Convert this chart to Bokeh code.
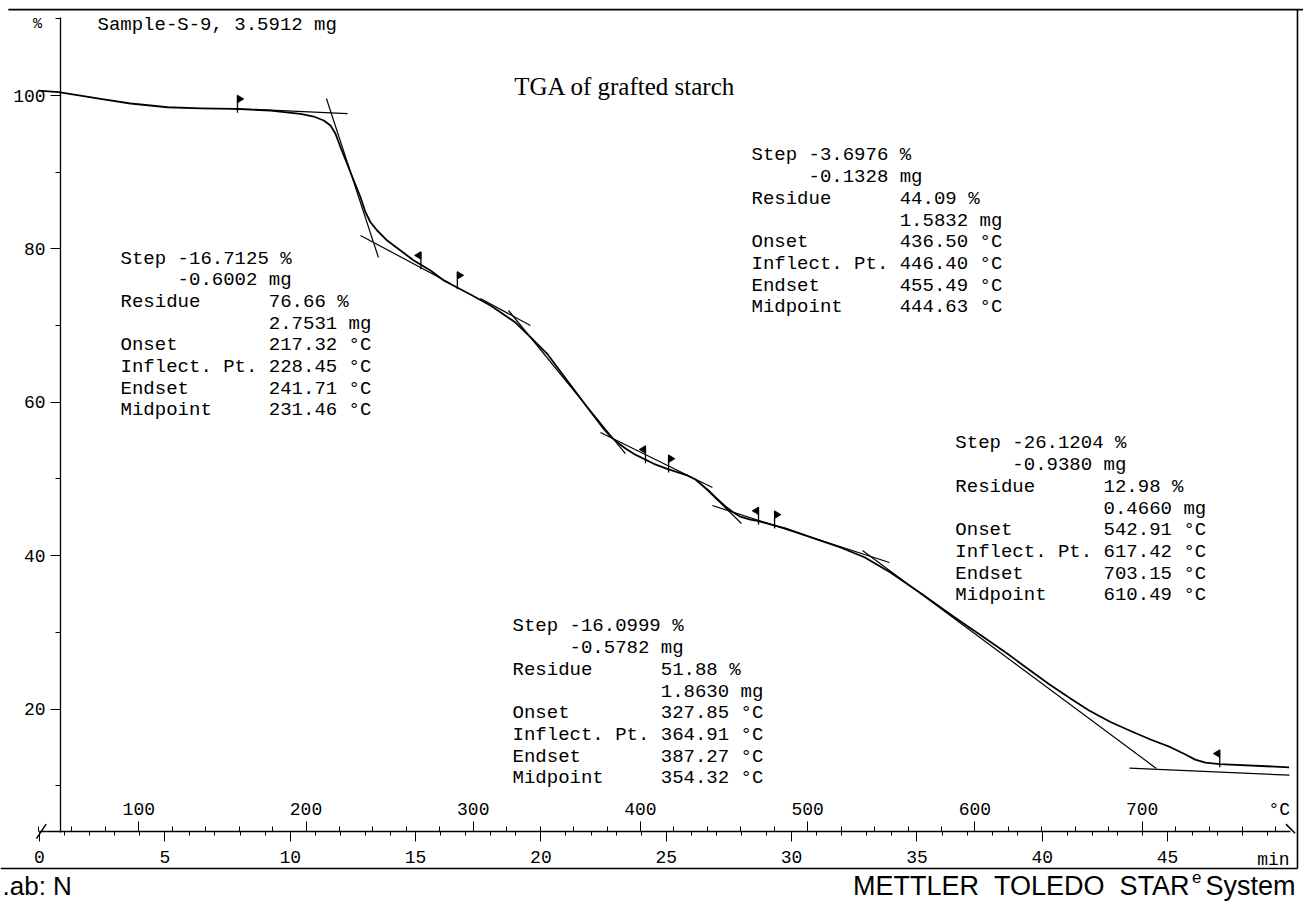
import numpy as np
from bokeh.plotting import figure
from bokeh.models import Range1d, LinearAxis, SingleIntervalTicker, ColumnDataSource
from bokeh.core.properties import value
from bokeh.embed import file_html
from bokeh.resources import INLINE

# ---- measured TGA curve: furnace temperature (degC) vs remaining mass (%) ----
temp_c = [40.0, 51.98, 65.14, 77.10, 95.04, 117.16, 136.90, 156.63, 178.76, 196.70,
          204.65, 210.63, 214.64, 217.63, 220.62, 224.62, 228.57, 232.57, 235.56, 238.55,
          242.56, 248.54, 256.50, 264.45, 274.44, 282.39, 298.35, 310.31, 316.29, 325.26,
          334.23, 344.22, 356.18, 368.14, 378.06, 382.07, 386.08, 391.04, 396.01, 407.97,
          415.98, 427.94, 432.90, 435.89, 440.68, 445.88, 450.84, 455.63, 459.57, 465.80,
          470.58, 486.72, 504.66, 519.61, 533.96, 549.51, 568.05, 587.78, 603.33, 619.48,
          644.00, 657.15, 668.28, 681.08, 692.44, 705.00, 716.96, 725.93, 731.73, 737.89,
          746.26, 787.88]
mass_pct = [100.65, 100.43, 100.00, 99.57, 98.96, 98.47, 98.33, 98.27, 98.04, 97.61,
            97.26, 96.74, 96.09, 95.01, 93.26, 91.09, 88.92, 86.74, 84.78, 83.48,
            82.40, 81.09, 79.79, 78.49, 77.18, 75.88, 74.05, 72.62, 71.74, 70.40,
            68.49, 66.32, 62.84, 59.36, 56.54, 55.54, 54.80, 53.97, 53.28, 51.98,
            51.33, 50.46, 49.94, 49.37, 48.50, 47.42, 46.41, 45.63, 45.10, 44.71,
            44.51, 43.55, 42.19, 41.07, 39.80, 37.81, 35.03, 31.98, 29.66, 27.21,
            23.29, 21.38, 19.82, 18.32, 17.21, 16.03, 15.03, 14.08, 13.41, 13.02,
            12.83, 12.41]

# ---- step evaluation results ----
step_pct = [-16.7125, -16.0999, -3.6976, -26.1204]
step_mg = [-0.6002, -0.5782, -0.1328, -0.9380]
residue_pct = [76.66, 51.88, 44.09, 12.98]
residue_mg = [2.7531, 1.8630, 1.5832, 0.4660]
onset_c = [217.32, 327.85, 436.50, 542.91]
inflect_c = [228.45, 364.91, 446.40, 617.42]
endset_c = [241.71, 387.27, 455.49, 703.15]
midpoint_c = [231.46, 354.32, 444.63, 610.49]

# ---- evaluation limits (flags): temperature, mass, direction (+1 right / -1 left) ----
flag_t = [159.0, 268.7, 290.5, 403.0, 416.8, 470.6, 480.2, 746.4]
flag_m = [98.2, 77.8, 75.2, 52.5, 51.3, 44.5, 44.0, 12.85]
flag_dir = [1, -1, 1, -1, 1, -1, 1, -1]

# ---- tangent / baseline construction lines ----
tan_t0 = [156.6, 212.2, 232.6, 304.3, 321.1, 376.1, 434.7, 443.0, 532.8, 692.4]
tan_m0 = [98.31, 99.61, 81.75, 73.53, 71.97, 56.06, 49.67, 46.54, 40.68, 12.29]
tan_t1 = [224.8, 243.3, 286.4, 334.2, 391.0, 443.0, 460.4, 548.9, 708.5, 788.1]
tan_m1 = [97.65, 78.88, 75.49, 70.01, 53.32, 48.89, 44.20, 39.11, 12.26, 11.39]

# ---- axes ----
temp_ticks = [100, 200, 300, 400, 500, 600, 700]
time_ticks = [0, 5, 10, 15, 20, 25, 30, 35, 40, 45]
mass_ticks = [20, 40, 60, 80, 100]

MONO = "Liberation Mono"
SANS = "Liberation Sans"
NB = "\u00a0"

p = figure(width=1303, height=903,
           x_range=Range1d(17.3, 796.5), y_range=Range1d(-5.35, 112.39),
           x_axis_location=None, y_axis_location=None,
           toolbar_location=None, output_backend="svg",
           min_border=0, outline_line_color=None)
p.min_border_left = p.min_border_right = p.min_border_top = p.min_border_bottom = 0
p.extra_x_ranges = {"time": Range1d(-1.556, 50.42)}
p.background_fill_color = "white"
p.border_fill_color = "white"
p.xgrid.visible = False
p.ygrid.visible = False

AXIS_Y = 3.98  # mass level of the combined time/temperature axis line


def style_axis(ax, size="18px"):
    ax.major_label_text_font = MONO
    ax.major_label_text_font_size = size
    ax.major_label_text_color = "black"
    ax.axis_line_color = "black"
    ax.major_tick_line_color = "black"
    ax.minor_tick_line_color = "black"
    ax.major_tick_in = 0
    ax.minor_tick_in = 0


# mass axis (%)
yax = LinearAxis(fixed_location=53.2, bounds=(3.9, 110.2),
                 ticker=SingleIntervalTicker(interval=20, num_minor_ticks=2))
style_axis(yax)
yax.major_tick_out = 10
yax.minor_tick_out = 5
yax.major_label_standoff = 5
yax.axis_line_width = 1.3
yax.major_label_overrides = {t: str(t) for t in mass_ticks}
p.add_layout(yax, "left")

# time axis (min), labels under the line
tax = LinearAxis(x_range_name="time", fixed_location=AXIS_Y, bounds=(0, 49.9),
                 ticker=SingleIntervalTicker(interval=5, num_minor_ticks=5))
style_axis(tax)
tax.major_tick_out = 10
tax.minor_tick_out = 4
tax.major_label_standoff = 9
tax.axis_line_width = 1.5
tax.major_label_overrides = {t: str(t) for t in time_ticks}
p.add_layout(tax, "below")

# temperature axis (degC), labels above the same line
Tax = LinearAxis(fixed_location=AXIS_Y, bounds=(40, 792),
                 ticker=SingleIntervalTicker(interval=100, num_minor_ticks=5))
style_axis(Tax)
Tax.axis_line_color = None
Tax.major_tick_out = 10
Tax.minor_tick_out = 5
Tax.major_label_standoff = 7
Tax.major_label_overrides = {t: str(t) for t in temp_ticks}
p.add_layout(Tax, "above")

# start / end marks of the axis line
p.segment(x0=[38.8, 786.0], y0=[3.1, 5.0], x1=[44.6, 791.5], y1=[5.0, 3.8],
          line_color="black", line_width=1.5)

# sheet frame lines
p.segment(x0=[22.0], y0=[111.2], x1=[796.5], y1=[111.2], line_color="black", line_width=1.8)
p.segment(x0=[17.3], y0=[-0.78], x1=[792.9], y1=[-0.78], line_color="black", line_width=1.4)
p.segment(x0=[792.9], y0=[-0.78], x1=[792.9], y1=[111.2], line_color="black", line_width=1.6)

# construction lines
p.segment(x0=tan_t0, y0=tan_m0, x1=tan_t1, y1=tan_m1, line_color="black", line_width=1.2)

# measured curve
p.line(temp_c, mass_pct, line_color="black", line_width=1.8, line_join="round")

# flags marking the evaluation limits
stem_src = ColumnDataSource(dict(x=flag_t, y0=[m - 0.45 for m in flag_m],
                                 y1=[m + 1.8 for m in flag_m]))
p.segment(x0="x", y0="y0", x1="x", y1="y1", source=stem_src, line_color="black", line_width=1.3)
pen_x = [[t, t, t + d * 3.8] for t, d in zip(flag_t, flag_dir)]
pen_y = [[m + 1.85, m + 0.85, m + 1.35] for m in flag_m]
p.patches(pen_x, pen_y, fill_color="black", line_color="black", line_width=0.8)

# evaluation result blocks
block_anchor_t = [89.1, 323.5, 466.4, 588.3]
block_anchor_m = [78.75, 30.77, 92.18, 54.63]
row_gap = 21.7

xs, ys, offs, texts = [], [], [], []
for i in range(4):
    rows = [
        f"Step {step_pct[i]:.4f} %",
        f"     {step_mg[i]:.4f} mg",
        f"Residue      {residue_pct[i]:.2f} %",
        f"             {residue_mg[i]:.4f} mg",
        f"Onset        {onset_c[i]:.2f} °C",
        f"Inflect. Pt. {inflect_c[i]:.2f} °C",
        f"Endset       {endset_c[i]:.2f} °C",
        f"Midpoint     {midpoint_c[i]:.2f} °C",
    ]
    for r, txt in enumerate(rows):
        xs.append(block_anchor_t[i])
        ys.append(block_anchor_m[i])
        offs.append(r * row_gap)
        texts.append(txt.replace(" ", NB))
blk = ColumnDataSource(dict(x=xs, y=ys, yo=offs, text=texts))
p.text(x="x", y="y", text="text", y_offset="yo", source=blk,
       text_font=value(MONO), text_font_size="19px", text_color="black",
       text_align="left", text_baseline="middle")

# header, units and title
p.text(x=[75.3], y=[109.26], text=["Sample-S-9,\u00a03.5912\u00a0mg"], text_font=value(MONO),
       text_font_size="19px", text_align="left", text_baseline="middle")
p.text(x=[39.4], y=[109.2], text=["%"], text_font=value(MONO),
       text_font_size="15px", text_align="center", text_baseline="middle")
p.text(x=[390.7], y=[101.17], text=["TGA of grafted starch"], text_font=value("Liberation Serif"),
       text_font_size="25px", text_align="center", text_baseline="middle")
p.text(x=[782.0], y=[6.8], text=["°C"], text_font=value(MONO),
       text_font_size="18px", text_align="center", text_baseline="middle")
p.text(x=[778.5], y=[0.3], text=["min"], text_font=value(MONO),
       text_font_size="18px", text_align="center", text_baseline="middle")

# footer
p.text(x=[18.5], y=[-3.13], text=[".ab:\u00a0N"], text_font=value(SANS),
       text_font_size="26px", text_align="left", text_baseline="middle")
p.text(x=[728.4], y=[-3.13], text=["METTLER\u00a0\u00a0TOLEDO\u00a0\u00a0STAR"], text_font=value(SANS),
       text_font_size="27px", text_align="right", text_baseline="middle")
p.text(x=[732.6], y=[-1.9], text=["e"], text_font=value(SANS),
       text_font_size="17px", text_align="center", text_baseline="middle")
p.text(x=[791.7], y=[-3.13], text=["System"], text_font=value(SANS),
       text_font_size="27px", text_align="right", text_baseline="middle")

open("out.html", "w").write(file_html(p, INLINE))
